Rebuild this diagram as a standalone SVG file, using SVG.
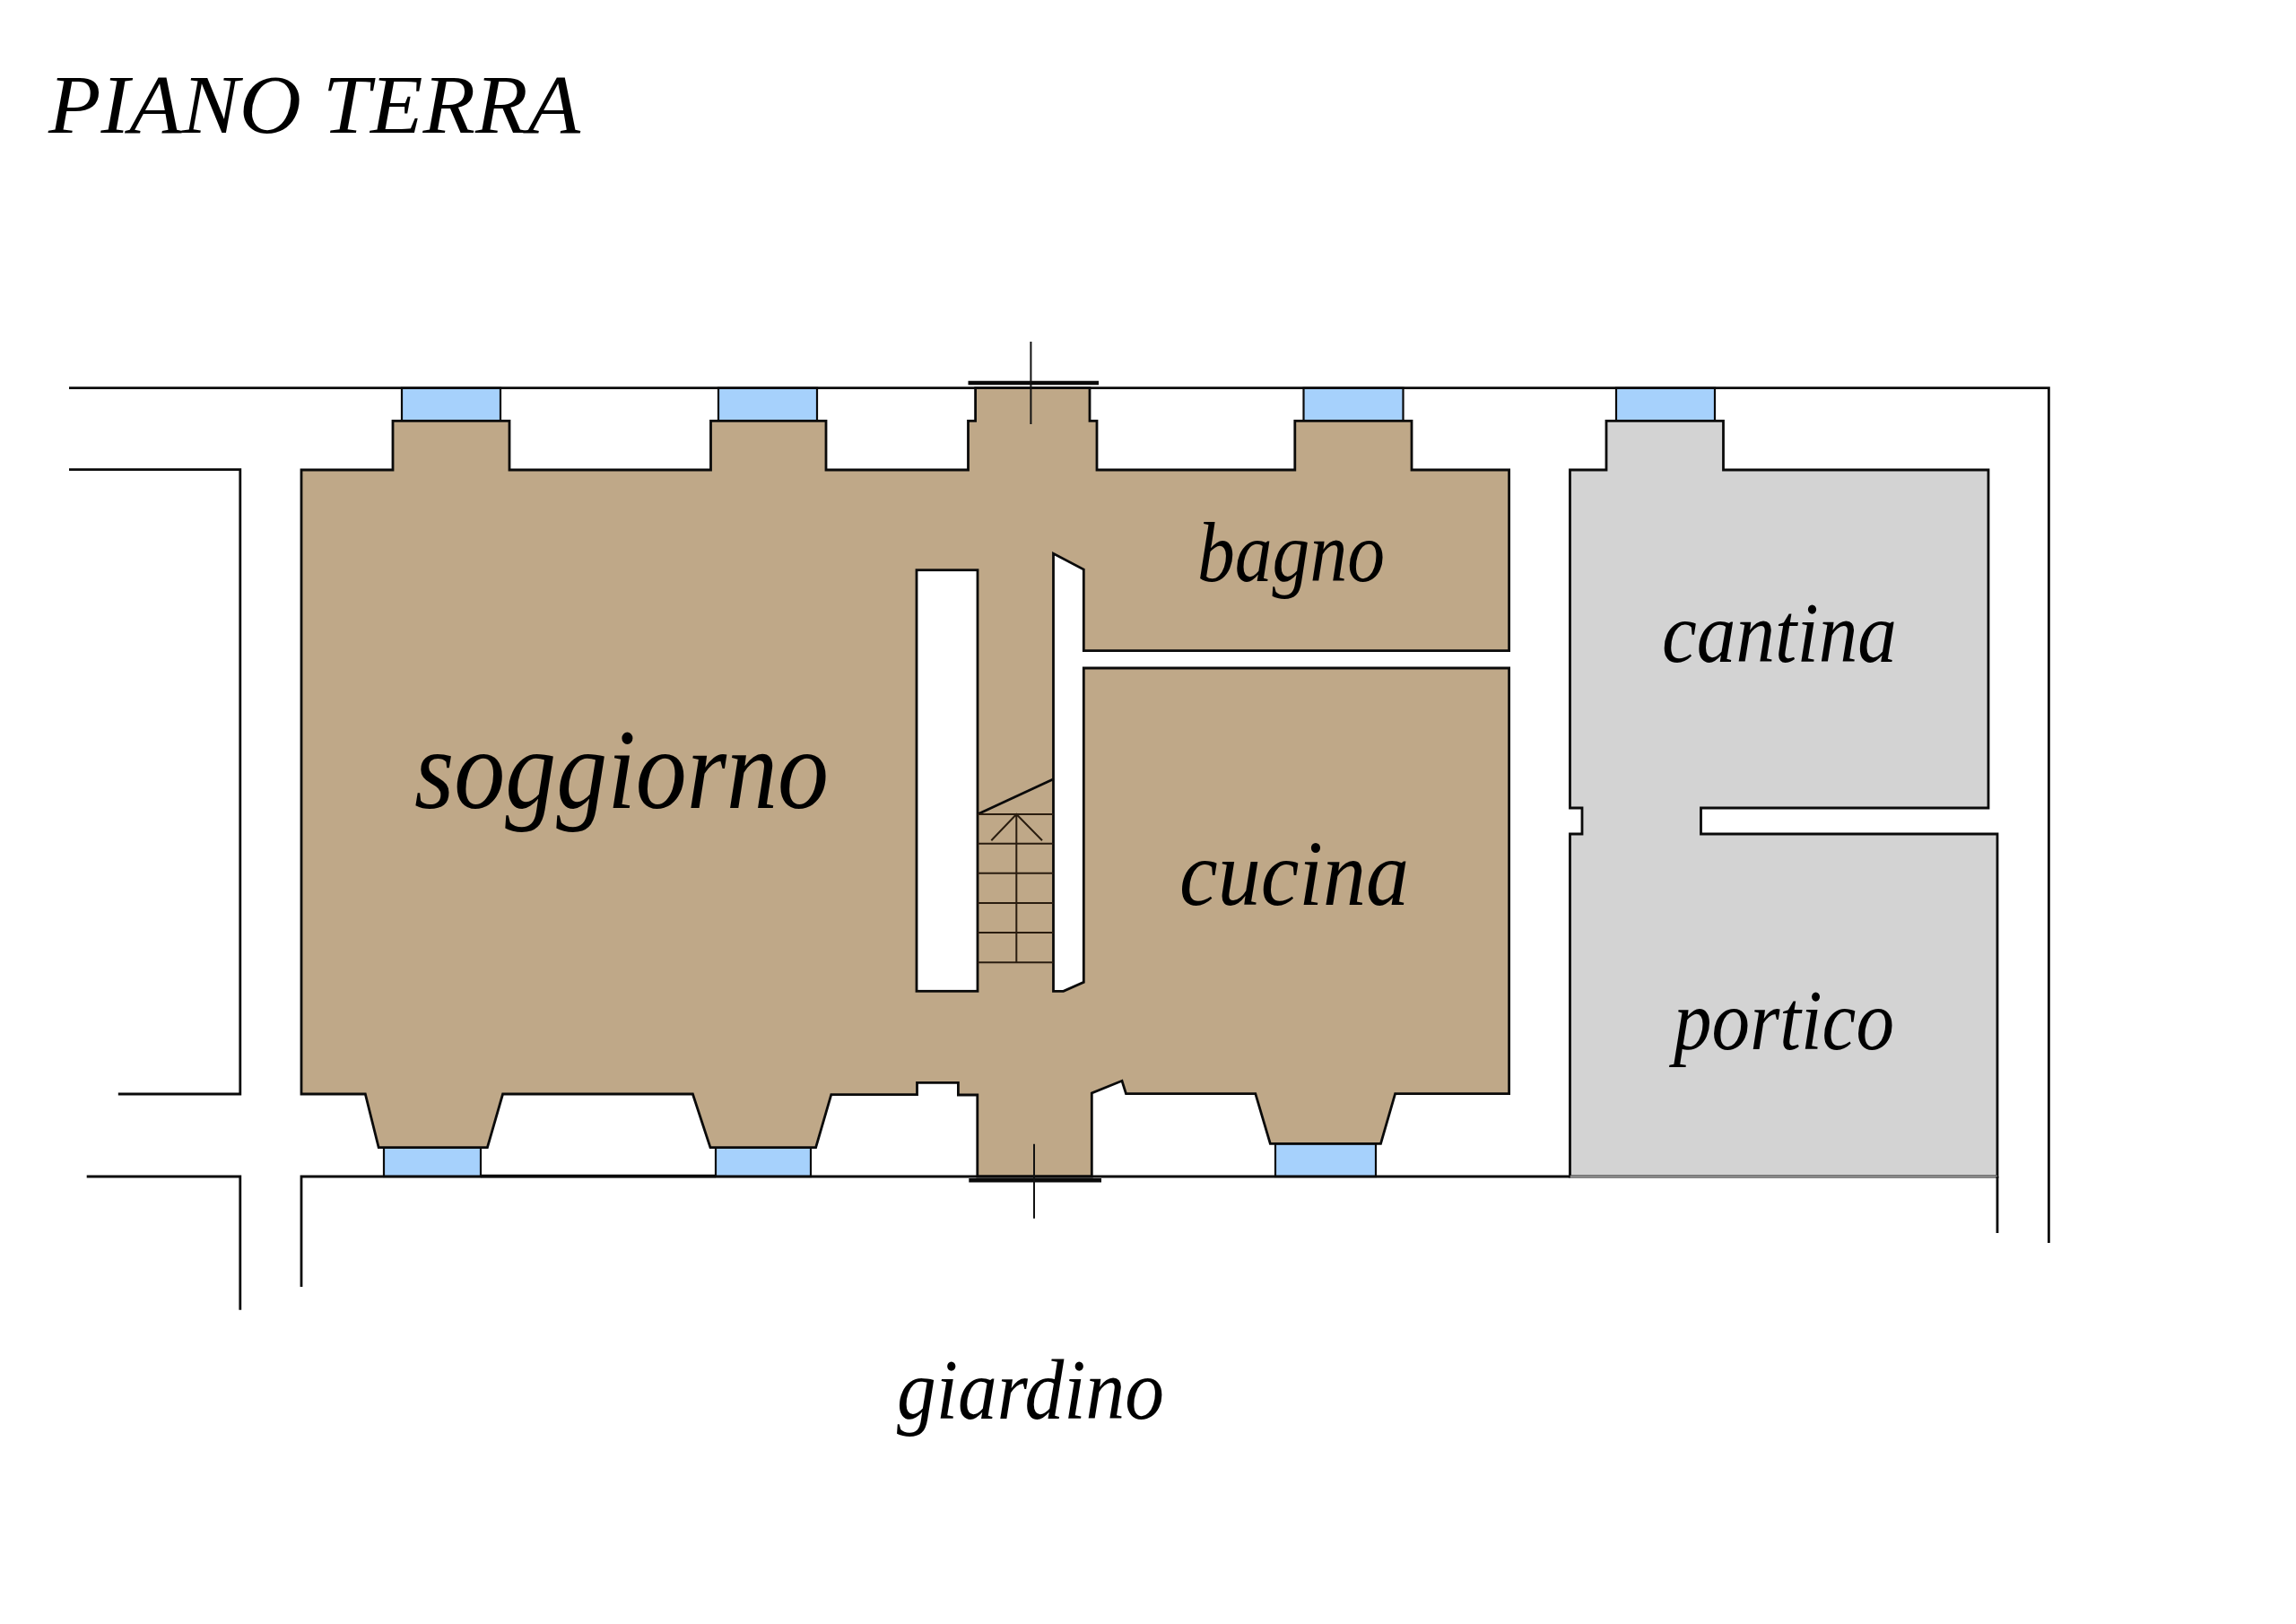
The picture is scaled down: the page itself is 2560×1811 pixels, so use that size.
<svg xmlns="http://www.w3.org/2000/svg" width="2560" height="1811" viewBox="0 0 2560 1811">
<style>
.w{fill:none;stroke:#0a0a0a;stroke-width:2.8}
.tan{fill:#BFA888;stroke:#0a0a0a;stroke-width:2.8;stroke-linejoin:miter}
.gr{fill:#D3D3D3;stroke:#0a0a0a;stroke-width:2.8}
.win{fill:#A6D1FC;stroke:#0a0a0a;stroke-width:2.2}
.slot{fill:#fff;stroke:#0a0a0a;stroke-width:2.8}
.thin{fill:none;stroke:#2a1d10;stroke-width:2}
.bar{fill:none;stroke:#0a0a0a;stroke-width:4.4}
text{font-family:"Liberation Serif","Times New Roman",serif;font-style:italic;fill:#000}
</style>
<rect width="2560" height="1811" fill="#fff"/>
<text id="title" x="54" y="147.5" font-size="93" textLength="593" lengthAdjust="spacingAndGlyphs">PIANO TERRA</text>
<g id="windows">
<rect class="win" x="448" y="432.7" width="110" height="36.6"/>
<rect class="win" x="801" y="432.7" width="110" height="36.6"/>
<rect class="win" x="1453.5" y="432.7" width="111" height="36.6"/>
<rect class="win" x="1802" y="432.7" width="110" height="36.6"/>
<rect class="win" x="428" y="1279.7" width="108" height="32.3"/>
<rect class="win" x="798" y="1279.7" width="106" height="32.3"/>
<rect class="win" x="1422" y="1275.3" width="112" height="36.7"/>
</g>
<g id="portico-cantina">
<path class="gr" d="M1750.5 524H1791V469.3H1921.5V524H2217V901H1896.5V930H2227V1312H1750.5V930H1764V901H1750.5Z"/>
<path d="M1750.5 1312H2227" fill="none" stroke="#888" stroke-width="2.4"/>
<text id="cantina" x="1853" y="738" font-size="96" textLength="262" lengthAdjust="spacingAndGlyphs">cantina</text>
<text id="portico" x="1866" y="1170" font-size="96" textLength="246" lengthAdjust="spacingAndGlyphs">portico</text>
</g>
<g id="ground-floor">
<path class="tan" d="M336 524H438V469.3H568V524H792.5V469.3H921V524H1079.5V469.3H1087.6V432.7H1215V469.3H1223V524H1443.8V469.3H1574V524H1682.6V725.7H1208.3V635L1174.5 617.3V1105.3H1185.7L1208.3 1095.3V745H1682.6V1219.7H1555.6L1539.5 1275.3H1416.3L1399.8 1219.7H1255.5L1251 1205.3L1217.3 1219V1312H1089.8V1221H1068.4V1207.3H1022.5V1220.7H926.8L909.6 1279.7H792L772.4 1220H560.6L543.4 1279.7H422.2L407.3 1220H336Z"/>
<rect class="slot" x="1022" y="635.7" width="68" height="469.6"/>
<g id="stairs">
<path class="w" d="M1090 908L1174.7 868.7"/>
<path class="thin" d="M1090 908H1174.5M1090 940.7H1174.5M1090 973.7H1174.5M1090 1007H1174.5M1090 1040H1174.5M1090 1073.3H1174.5M1133.3 908V1073.3M1105.3 937.3L1133.3 908L1162 937.3"/>
</g>
<text id="soggiorno" x="462" y="901" font-size="128" textLength="462" lengthAdjust="spacingAndGlyphs">soggiorno</text>
<text id="bagno" x="1335" y="648" font-size="96" textLength="209" lengthAdjust="spacingAndGlyphs">bagno</text>
<text id="cucina" x="1315" y="1009" font-size="104" textLength="256" lengthAdjust="spacingAndGlyphs">cucina</text>
</g>
<g id="walls">
<path class="w" d="M77 432.7H2284.4V1386"/>
<path class="w" d="M77 523.7H267.8V1220H131.8"/>
<path class="w" d="M96.7 1312H267.8V1460.7"/>
<path class="w" d="M336 1435V1312H1750.5"/>
<path class="w" d="M2227 1312V1375"/>
<path class="w" d="M536 1311.5H798" style="stroke-width:3.6"/>
</g>
<g id="section-marks">
<path class="bar" d="M1079.5 427H1225"/>
<path class="thin" style="stroke:#111" d="M1149.4 381V473"/>
<path class="bar" d="M1080.3 1316.3H1228"/>
<path class="thin" style="stroke:#111" d="M1153 1275.7V1358.7"/>
</g>
<text id="giardino" x="1000" y="1581.5" font-size="96" textLength="298" lengthAdjust="spacingAndGlyphs">giardino</text>
</svg>
